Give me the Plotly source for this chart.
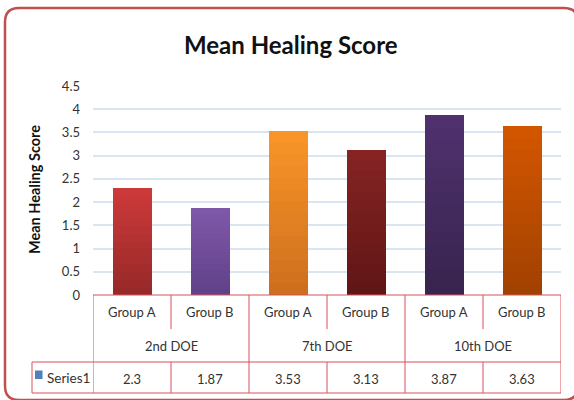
import plotly.graph_objects as go

# ---- data ----
groups = ["Group A", "Group B", "Group A", "Group B", "Group A", "Group B"]
doe_labels = ["2nd DOE", "7th DOE", "10th DOE"]
values = [2.3, 1.87, 3.53, 3.13, 3.87, 3.63]
series_name = "Series1"
bar_top_colors = ["#ce3a3a", "#8058aa", "#fa9628", "#872323", "#50326e", "#d45600"]
bar_bottom_colors = ["#962828", "#5f4187", "#cd6e1e", "#5f1616", "#37234e", "#a04100"]

W, H = 574, 400
L, R, T, B = 93, 561, 86, 295  # plot area in pixels
FONT = "Lato"
LINE = "#d9505a"


def pxx(x):
    return (x - L) / (R - L)


def pxy(y):
    return (B - y) / (B - T)


def hex2rgb(h):
    h = h.lstrip("#")
    return tuple(int(h[i:i + 2], 16) for i in (0, 2, 4))


def mix(c1, c2, t):
    a, b = hex2rgb(c1), hex2rgb(c2)
    return "rgb(%d,%d,%d)" % tuple(round(a[i] + (b[i] - a[i]) * t) for i in range(3))


xs = list(range(len(values)))
N = 14
fig = go.Figure()
for k in range(N):
    t = (k + 0.5) / N
    fig.add_trace(go.Bar(
        x=xs, y=[v / N for v in values], width=0.5,
        marker=dict(color=[mix(bb, tt, t) for bb, tt in zip(bar_bottom_colors, bar_top_colors)],
                    line=dict(width=0)),
        showlegend=False, hoverinfo="skip"))

shapes = []
# outer rounded border
x0, y0, x1, y1, r = 5, 8, 578, 400, 14
path = (f"M {pxx(x0+r)},{pxy(y0)} L {pxx(x1-r)},{pxy(y0)} "
        f"Q {pxx(x1)},{pxy(y0)} {pxx(x1)},{pxy(y0+r)} L {pxx(x1)},{pxy(y1-r)} "
        f"Q {pxx(x1)},{pxy(y1)} {pxx(x1-r)},{pxy(y1)} L {pxx(x0+r)},{pxy(y1)} "
        f"Q {pxx(x0)},{pxy(y1)} {pxx(x0)},{pxy(y1-r)} L {pxx(x0)},{pxy(y0+r)} "
        f"Q {pxx(x0)},{pxy(y0)} {pxx(x0+r)},{pxy(y0)} Z")
shapes.append(dict(type="path", path=path, xref="paper", yref="paper",
                   line=dict(color="#c0504d", width=2.5), layer="below"))


def hline(xa, xb, y, xref="x"):
    shapes.append(dict(type="line", xref=xref, yref="paper", x0=xa, x1=xb,
                       y0=pxy(y), y1=pxy(y), line=dict(color=LINE, width=1)))


def vline(x, ya, yb, xref="x"):
    shapes.append(dict(type="line", xref=xref, yref="paper", x0=x, x1=x,
                       y0=pxy(ya), y1=pxy(yb), line=dict(color=LINE, width=1)))


n = len(values)
hline(-0.5, n - 0.5, 295)
hline(-0.5, n - 0.5, 362)
hline(-0.5, n - 0.5, 393)
hline(pxx(32), 0, 362, xref="paper")
hline(pxx(32), 0, 393, xref="paper")
vline(pxx(32), 362, 393, xref="paper")
for i in range(n + 1):
    xb = i - 0.5
    if i % 2 == 0:
        vline(xb, 295, 393)
    else:
        vline(xb, 295, 329)
        vline(xb, 362, 393)

TXT = dict(family=FONT, size=13, color="#333333")
ann = []
for i, g in enumerate(groups):
    ann.append(dict(x=i, y=pxy(312), xref="x", yref="paper", text=g, showarrow=False,
                    xanchor="center", yanchor="middle", font=TXT))
    ann.append(dict(x=i, y=pxy(379), xref="x", yref="paper", text=str(values[i]), showarrow=False,
                    xanchor="center", yanchor="middle", font=TXT))
for j, d in enumerate(doe_labels):
    ann.append(dict(x=2 * j + 0.5, y=pxy(346), xref="x", yref="paper", text=d, showarrow=False,
                    xanchor="center", yanchor="middle", font=TXT))
ann.append(dict(x=pxx(45), y=pxy(378), xref="paper", yref="paper", text=series_name,
                showarrow=False, xanchor="left", yanchor="middle",
                font=dict(family=FONT, size=13.5, color="#333333")))
shapes.append(dict(type="rect", xref="paper", yref="paper", x0=pxx(35), x1=pxx(42.5),
                   y0=pxy(370.5), y1=pxy(379), fillcolor="#4f81bd", line=dict(width=0)))
# title
ann.append(dict(x=pxx(291), y=pxy(45), xref="paper", yref="paper", text="<b>Mean Healing Score</b>",
                showarrow=False, xanchor="center", yanchor="middle",
                font=dict(family=FONT, size=24, color="#111111")))
# y axis title
ann.append(dict(x=pxx(34), y=pxy(190), xref="paper", yref="paper", text="<b>Mean Healing Score</b>",
                showarrow=False, textangle=-90, xanchor="center", yanchor="middle",
                font=dict(family=FONT, size=14.5, color="#111111")))

fig.update_layout(
    width=W, height=H, barmode="stack", bargap=0.5,
    margin=dict(l=L, r=W - R, t=T, b=H - B, pad=0),
    paper_bgcolor="white", plot_bgcolor="white",
    shapes=shapes, annotations=ann, showlegend=False,
    xaxis=dict(range=[-0.5, n - 0.5], showticklabels=False, showgrid=False, zeroline=False,
               showline=False, fixedrange=True),
    yaxis=dict(range=[0, 4.5], dtick=0.5, tick0=0, showgrid=True, gridcolor="#dbe5f1", gridwidth=1.5,
               zeroline=False, showline=False, ticks="", ticklabelstandoff=12,
               tickfont=dict(family=FONT, size=13, color="#333333")),
)

fig.write_html("out.html")
